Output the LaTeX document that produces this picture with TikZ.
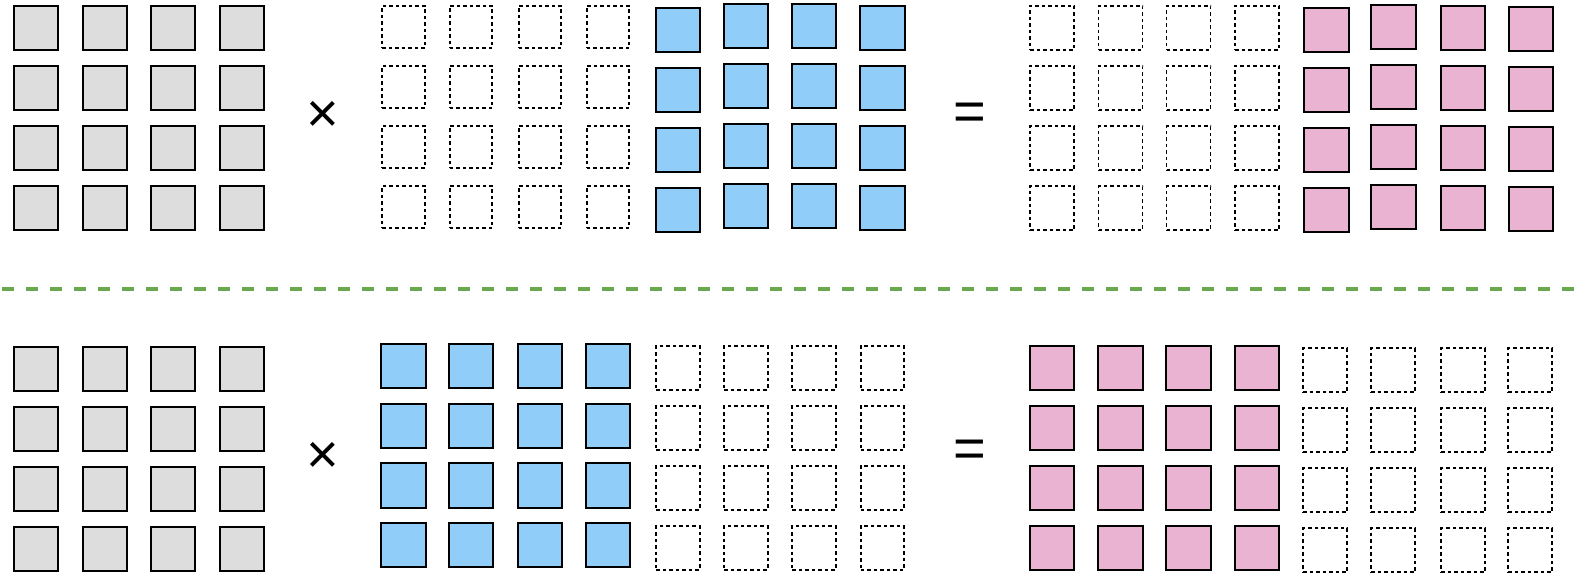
\documentclass[tikz,border=0pt]{standalone}
\usepackage{fontspec}
\setmainfont{Liberation Sans}
\definecolor{cellgrey}{HTML}{DDDDDD}
\definecolor{cellblue}{HTML}{91CDF9}
\definecolor{cellpink}{HTML}{EAB3D1}
\definecolor{sepgreen}{HTML}{6AA84F}
\begin{document}
\begin{tikzpicture}[x=1pt,y=-1pt,
  cell/.style={draw=black,line width=1.9pt,minimum width=44.2pt,minimum height=44.2pt,inner sep=0pt,outer sep=0pt},
  greycell/.style={cell,fill=cellgrey},
  bluecell/.style={cell,fill=cellblue},
  pinkcell/.style={cell,fill=cellpink},
  emptycell/.style={cell,line width=1.7pt,dash pattern=on 3.5pt off 3pt,minimum width=42.5pt,minimum height=42.5pt},
  op/.style={font=\fontsize{56}{56}\selectfont,inner sep=0pt},
  sepline/.style={draw=sepgreen,line width=4.5pt,dash pattern=on 12pt off 12pt}
]
\useasboundingbox (0,0) rectangle (1574,578);
% ---------- top row ----------
\foreach \x [count=\c] in {36,105,173,242}{
  \foreach \y [count=\r] in {28,88,148,208}{
    \node[greycell] (ta-\r-\c) at (\x,\y) {};
  }
}
\foreach \x [count=\c] in {403.5,471,540,608}{
  \foreach \y [count=\r] in {27,87,147,207}{
    \node[emptycell] (tb-\r-\c) at (\x,\y) {};
  }
}
\foreach \x/\dy [count=\c] in {678/2,746/-2,814/-2,882.5/0}{
  \foreach \y [count=\r] in {28,88,148,208}{
    \node[bluecell] (tc-\r-\c) at (\x,\y+\dy) {};
  }
}
\foreach \x [count=\c] in {1052,1120.5,1188.5,1257}{
  \foreach \y [count=\r] in {28,88,148,208}{
    \node[emptycell,minimum width=44pt,minimum height=44pt] (td-\r-\c) at (\x,\y) {};
  }
}
\foreach \x/\dy [count=\c] in {1326.5/2,1393.5/-1,1463/0,1531/1}{
  \foreach \y [count=\r] in {28,88,148,208}{
    \node[pinkcell] (te-\r-\c) at (\x,\y+\dy) {};
  }
}
\node[op] (tmul) at (323,117) {×};
\node[op] (teq) at (970,117) {=};
% ---------- separator ----------
\coordinate (sepL) at (2,289);
\coordinate (sepR) at (1574,289);
\draw[sepline] (sepL) -- (sepR);
% ---------- bottom row ----------
\foreach \x [count=\c] in {36,105,173,242}{
  \foreach \y [count=\r] in {369,429,489,549}{
    \node[greycell] (ba-\r-\c) at (\x,\y) {};
  }
}
\foreach \x [count=\c] in {403.5,471,540,608}{
  \foreach \y [count=\r] in {366,426,485.5,545}{
    \node[bluecell] (bb-\r-\c) at (\x,\y) {};
  }
}
\foreach \x [count=\c] in {678,746,814,882.5}{
  \foreach \y [count=\r] in {368,428,488,548}{
    \node[emptycell,minimum width=43.5pt,minimum height=43.5pt] (bc-\r-\c) at (\x,\y) {};
  }
}
\foreach \x [count=\c] in {1052,1120.5,1188.5,1257}{
  \foreach \y [count=\r] in {368,428,488,548}{
    \node[pinkcell] (bd-\r-\c) at (\x,\y) {};
  }
}
\foreach \x [count=\c] in {1325,1393,1463,1530}{
  \foreach \y [count=\r] in {370,430,490,550}{
    \node[emptycell,minimum width=44pt,minimum height=44pt] (be-\r-\c) at (\x,\y) {};
  }
}
\node[op] (bmul) at (323,458) {×};
\node[op] (beq) at (970,454) {=};
\end{tikzpicture}
\end{document}
